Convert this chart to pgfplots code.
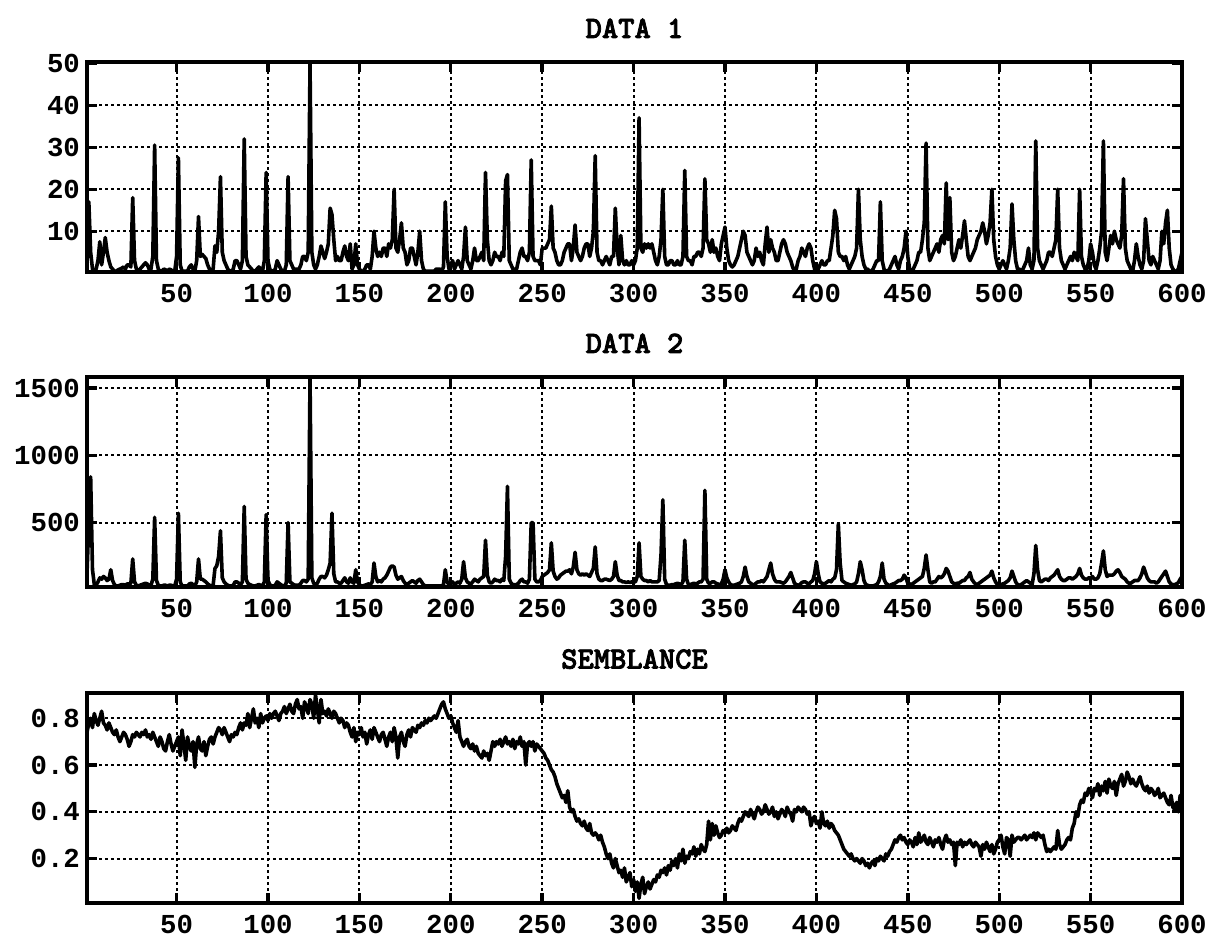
\documentclass[border=0pt]{standalone}
\usepackage{fontspec}
\setmainfont{Liberation Mono}
\newfontfamily\titlefont{lmmonolt10-bold.otf}[FakeBold=2.5]
\usepackage{pgfplots}
\pgfplotsset{compat=1.18}
\usepackage{pgfplotstable}

\pgfplotstableread[header=false,row sep=\\]{
2\\17\\5\\1\\0.5\\1\\3\\7.5\\2\\5\\
8.5\\5\\3\\1.5\\1\\0.5\\0.5\\0.8\\1\\1.2\\
1.5\\1\\2\\2\\1.5\\18\\3\\1\\0.5\\1\\
1.5\\2\\2.5\\2\\1\\1\\4\\30.5\\3\\1\\
0.5\\0.5\\1\\0.8\\0.5\\1\\0.8\\0.5\\0.5\\4\\
27.5\\2\\0.5\\0.5\\0.5\\0.5\\1.5\\2\\1\\0.5\\
3\\13.5\\4\\4.5\\4\\3.5\\2\\1\\0.5\\1\\
6.5\\5\\10\\23\\5\\3\\2\\1\\0.5\\0.5\\
1\\3\\3\\2\\1\\3\\32\\4\\2\\1.5\\
1\\0.5\\0.5\\1\\1.5\\1\\0.5\\3\\24\\3\\
1\\0.5\\0.5\\1\\3\\2\\1\\0.5\\0.5\\2\\
23\\3\\2\\1\\1\\1\\1\\2\\4\\4\\
3\\5\\50\\5\\2\\1\\2\\4\\6.5\\5\\
3.5\\5\\7\\15.5\\14\\8\\3\\4\\3\\3\\
5\\6.5\\4\\3\\7\\1\\2\\7\\2\\1\\
0.5\\0.5\\1\\2\\2\\1\\4\\10\\6\\4\\
5\\4\\6\\6\\4\\7\\6\\8\\20\\6\\
5\\8\\12\\6\\5\\2\\3\\6\\6\\4\\
2\\5\\10\\3\\1\\0.5\\0.5\\0.5\\0.5\\0.5\\
0.5\\1\\1\\1\\0.5\\1.5\\17\\4\\1\\2\\
3\\1\\2\\3\\2\\1\\4\\11\\3\\2\\
1\\3\\6\\3\\3\\4\\5\\3\\24\\8\\
3\\2\\3\\5\\4\\4\\3\\5\\4\\22\\
23.5\\3\\2\\1\\1\\1\\3\\5\\6\\4\\
4\\3\\5\\27\\4\\3\\3\\3\\2\\6\\
6\\6\\7\\8\\16\\6\\5\\3\\2\\2\\
3\\5\\6\\7\\7\\3\\6\\11.5\\5\\4\\
3\\4\\6\\7\\7\\4\\6\\10\\28\\5\\
3\\3\\2\\3\\4\\3\\2\\4\\4\\15.5\\
6\\2\\9\\3\\2\\3\\2\\2\\3\\2\\
3\\6\\37\\6\\5\\7\\6\\7\\6\\7\\
5\\3\\2\\4\\8\\20\\4\\2\\2\\3\\
3\\2\\2\\3\\2\\2\\4\\24.5\\4\\3\\
3\\2\\4\\4\\5\\5\\4\\6\\22.5\\8\\
7\\5\\8\\5\\6\\4\\3\\7\\9\\11\\
6\\3\\2\\1.5\\2\\3\\4\\6\\8\\10\\
9\\5\\4\\3\\2\\3\\6\\4\\5\\3\\
2\\7\\11\\5\\8\\6\\5\\3\\3\\5\\
7\\8\\7\\5\\4\\3\\1.5\\0.5\\1\\3\\
4\\6\\5\\4\\6\\7\\6\\3\\1\\0.5\\
1\\2\\3\\2\\2\\3\\3\\6\\9\\15\\
13\\5\\4\\4\\3\\4\\2\\1\\2\\3\\
4\\6\\20\\8\\4\\2\\1\\1\\0.5\\0.5\\
1\\2\\3\\3\\17\\3\\1\\0.5\\0.5\\1\\
2\\3\\4\\2\\1\\3\\4\\6\\10\\4\\
1\\0.5\\1\\2\\3\\5\\5\\8\\12\\31\\
6\\3\\4\\5\\6\\7\\5\\8\\9\\7\\
21.5\\8\\18\\5\\3\\4\\6\\8\\6\\9\\
12.5\\8\\4\\3\\4\\5\\6\\8\\9\\10\\
12\\10\\7\\9\\12\\20\\8\\4\\2\\1\\
2\\3\\2\\1\\3\\6\\16.5\\8\\3\\1\\
1\\0.5\\1\\2\\3\\6\\2\\1\\3\\31.5\\
6\\3\\2\\1\\2\\3\\5\\5\\4\\6\\
8\\20\\6\\3\\2\\1\\2\\3\\4\\3\\
5\\4\\3\\20\\4\\2\\1\\1\\3\\7\\
5\\2\\1\\3\\6\\10\\31.5\\5\\3\\6\\
9\\7\\10\\8\\7\\6\\9\\22.5\\6\\3\\
2\\1\\0.5\\3\\7\\4\\2\\1\\3\\13\\
8\\3\\2\\4\\3\\2\\1\\3\\10\\7\\
12\\15\\6\\2\\1\\0.5\\0.5\\1\\3\\5\\
}\dataone

\pgfplotstableread[header=false,row sep=\\]{
120\\500\\840\\150\\40\\35\\60\\90\\80\\100\\
90\\70\\80\\150\\70\\40\\30\\30\\35\\40\\
40\\35\\45\\45\\50\\230\\60\\35\\30\\35\\
40\\45\\50\\45\\35\\35\\80\\540\\70\\35\\
30\\30\\35\\35\\30\\35\\35\\30\\30\\80\\
570\\60\\30\\30\\30\\30\\45\\50\\40\\30\\
60\\230\\80\\80\\70\\60\\45\\35\\30\\35\\
160\\180\\250\\440\\90\\60\\45\\35\\30\\30\\
35\\60\\60\\50\\40\\60\\620\\80\\50\\40\\
35\\30\\30\\35\\40\\35\\30\\60\\560\\70\\
40\\30\\30\\35\\60\\50\\40\\30\\30\\50\\
500\\60\\50\\40\\35\\35\\35\\50\\70\\70\\
60\\80\\1580\\90\\50\\40\\50\\80\\100\\100\\
90\\110\\150\\200\\570\\120\\60\\60\\50\\50\\
70\\90\\60\\50\\90\\60\\50\\150\\60\\40\\
30\\30\\35\\40\\45\\40\\60\\200\\100\\60\\
70\\60\\80\\90\\110\\140\\170\\180\\170\\110\\
80\\90\\100\\70\\50\\40\\50\\60\\70\\60\\
50\\70\\80\\60\\40\\30\\30\\30\\30\\30\\
30\\30\\30\\30\\30\\40\\150\\60\\40\\50\\
60\\40\\50\\60\\50\\80\\210\\90\\60\\50\\
45\\60\\80\\70\\60\\80\\90\\100\\370\\110\\
60\\50\\60\\80\\70\\70\\60\\80\\70\\250\\
770\\80\\50\\40\\40\\40\\50\\70\\80\\60\\
60\\50\\80\\500\\500\\80\\60\\60\\70\\100\\
110\\120\\130\\150\\350\\140\\100\\80\\90\\110\\
120\\130\\140\\140\\150\\120\\170\\280\\150\\120\\
110\\120\\110\\120\\110\\100\\130\\160\\320\\120\\
80\\70\\70\\80\\80\\75\\70\\80\\100\\210\\
110\\70\\70\\60\\60\\55\\60\\55\\60\\60\\
60\\100\\350\\100\\80\\70\\70\\60\\70\\60\\
60\\60\\60\\70\\260\\670\\80\\40\\35\\35\\
40\\40\\45\\50\\45\\40\\60\\370\\80\\40\\
40\\45\\50\\45\\50\\60\\60\\80\\740\\80\\
50\\50\\60\\60\\50\\45\\40\\45\\80\\150\\
90\\60\\40\\35\\35\\40\\45\\50\\60\\100\\
170\\100\\60\\50\\40\\40\\50\\60\\60\\70\\
60\\80\\100\\150\\200\\120\\80\\60\\60\\60\\
55\\50\\60\\80\\100\\130\\90\\50\\40\\35\\
40\\55\\60\\60\\50\\45\\60\\70\\120\\210\\
120\\60\\50\\45\\50\\60\\70\\60\\80\\90\\
150\\490\\200\\70\\60\\50\\45\\40\\35\\40\\
45\\60\\120\\210\\150\\70\\40\\35\\30\\30\\
30\\35\\40\\60\\100\\200\\80\\50\\40\\30\\
40\\45\\50\\60\\70\\70\\80\\110\\90\\50\\
45\\40\\50\\60\\70\\80\\90\\100\\160\\260\\
150\\60\\50\\60\\60\\80\\100\\90\\100\\120\\
160\\140\\100\\60\\50\\45\\50\\50\\60\\70\\
70\\90\\100\\130\\80\\60\\45\\40\\50\\60\\
70\\80\\90\\100\\110\\140\\90\\60\\40\\35\\
40\\45\\50\\60\\70\\90\\140\\100\\60\\40\\
35\\40\\50\\60\\70\\60\\50\\40\\120\\330\\
150\\70\\60\\70\\80\\80\\70\\90\\100\\110\\
130\\150\\100\\80\\70\\70\\80\\90\\90\\80\\
90\\100\\120\\160\\110\\90\\80\\80\\90\\90\\
100\\80\\80\\90\\120\\200\\290\\150\\100\\110\\
110\\110\\120\\140\\150\\130\\100\\90\\80\\60\\
50\\50\\60\\70\\70\\70\\90\\120\\170\\130\\
90\\70\\60\\60\\60\\50\\60\\80\\100\\120\\
140\\100\\60\\45\\40\\40\\45\\55\\80\\100\\
}\datatwo

\pgfplotstableread[header=false,row sep=\\]{
0.74\\0.78\\0.80\\0.76\\0.82\\0.79\\0.77\\0.80\\0.83\\0.78\\
0.77\\0.75\\0.78\\0.76\\0.74\\0.73\\0.75\\0.72\\0.70\\0.72\\
0.74\\0.73\\0.71\\0.68\\0.70\\0.73\\0.72\\0.74\\0.73\\0.72\\
0.74\\0.73\\0.75\\0.72\\0.73\\0.71\\0.74\\0.72\\0.70\\0.68\\
0.72\\0.70\\0.67\\0.66\\0.70\\0.73\\0.69\\0.66\\0.68\\0.70\\
0.72\\0.64\\0.75\\0.69\\0.62\\0.72\\0.68\\0.66\\0.70\\0.59\\
0.69\\0.72\\0.67\\0.66\\0.70\\0.64\\0.68\\0.71\\0.72\\0.69\\
0.72\\0.74\\0.76\\0.75\\0.73\\0.76\\0.74\\0.72\\0.70\\0.73\\
0.72\\0.74\\0.73\\0.76\\0.78\\0.75\\0.78\\0.77\\0.82\\0.76\\
0.80\\0.84\\0.78\\0.80\\0.76\\0.82\\0.78\\0.80\\0.81\\0.79\\
0.82\\0.80\\0.82\\0.83\\0.81\\0.79\\0.82\\0.83\\0.85\\0.82\\
0.84\\0.86\\0.83\\0.82\\0.86\\0.88\\0.84\\0.85\\0.80\\0.87\\
0.85\\0.82\\0.88\\0.86\\0.80\\0.90\\0.84\\0.78\\0.88\\0.82\\
0.83\\0.81\\0.84\\0.82\\0.80\\0.83\\0.82\\0.80\\0.78\\0.80\\
0.79\\0.76\\0.78\\0.77\\0.74\\0.72\\0.76\\0.70\\0.74\\0.73\\
0.76\\0.72\\0.74\\0.69\\0.73\\0.75\\0.71\\0.76\\0.74\\0.72\\
0.70\\0.73\\0.74\\0.71\\0.68\\0.72\\0.74\\0.70\\0.76\\0.72\\
0.63\\0.72\\0.74\\0.70\\0.68\\0.73\\0.75\\0.72\\0.76\\0.75\\
0.74\\0.77\\0.76\\0.78\\0.77\\0.79\\0.78\\0.80\\0.79\\0.80\\
0.81\\0.80\\0.82\\0.84\\0.86\\0.87\\0.84\\0.82\\0.80\\0.81\\
0.78\\0.76\\0.74\\0.79\\0.72\\0.70\\0.68\\0.70\\0.71\\0.68\\
0.67\\0.69\\0.66\\0.68\\0.65\\0.64\\0.63\\0.66\\0.64\\0.65\\
0.62\\0.66\\0.70\\0.68\\0.70\\0.69\\0.71\\0.68\\0.70\\0.72\\
0.69\\0.70\\0.68\\0.71\\0.67\\0.70\\0.69\\0.72\\0.68\\0.70\\
0.60\\0.69\\0.70\\0.68\\0.70\\0.66\\0.69\\0.68\\0.67\\0.66\\
0.65\\0.63\\0.62\\0.60\\0.58\\0.57\\0.55\\0.52\\0.50\\0.48\\
0.46\\0.47\\0.44\\0.49\\0.42\\0.40\\0.41\\0.38\\0.36\\0.37\\
0.35\\0.34\\0.36\\0.33\\0.32\\0.35\\0.31\\0.30\\0.31\\0.30\\
0.28\\0.30\\0.27\\0.25\\0.22\\0.20\\0.22\\0.18\\0.16\\0.20\\
0.17\\0.14\\0.15\\0.12\\0.16\\0.10\\0.12\\0.14\\0.08\\0.11\\
0.06\\0.10\\0.03\\0.09\\0.12\\0.05\\0.08\\0.10\\0.07\\0.09\\
0.11\\0.10\\0.13\\0.12\\0.15\\0.14\\0.16\\0.13\\0.17\\0.15\\
0.19\\0.17\\0.20\\0.16\\0.22\\0.19\\0.24\\0.18\\0.21\\0.20\\
0.23\\0.22\\0.25\\0.21\\0.24\\0.22\\0.26\\0.24\\0.23\\0.26\\
0.36\\0.28\\0.35\\0.30\\0.34\\0.31\\0.29\\0.30\\0.32\\0.31\\
0.33\\0.31\\0.32\\0.34\\0.33\\0.32\\0.35\\0.37\\0.36\\0.38\\
0.40\\0.39\\0.38\\0.41\\0.39\\0.37\\0.40\\0.42\\0.41\\0.39\\
0.40\\0.43\\0.41\\0.39\\0.40\\0.42\\0.38\\0.40\\0.37\\0.39\\
0.41\\0.40\\0.38\\0.42\\0.40\\0.39\\0.36\\0.41\\0.40\\0.42\\
0.41\\0.40\\0.42\\0.41\\0.39\\0.40\\0.34\\0.37\\0.38\\0.35\\
0.36\\0.33\\0.40\\0.35\\0.34\\0.36\\0.33\\0.35\\0.34\\0.32\\
0.31\\0.30\\0.28\\0.26\\0.24\\0.23\\0.22\\0.21\\0.22\\0.20\\
0.19\\0.20\\0.19\\0.18\\0.20\\0.19\\0.17\\0.18\\0.16\\0.18\\
0.19\\0.17\\0.20\\0.19\\0.21\\0.20\\0.19\\0.22\\0.21\\0.23\\
0.24\\0.26\\0.28\\0.27\\0.29\\0.30\\0.28\\0.29\\0.27\\0.26\\
0.28\\0.27\\0.25\\0.29\\0.26\\0.31\\0.27\\0.28\\0.30\\0.27\\
0.26\\0.29\\0.27\\0.25\\0.28\\0.27\\0.29\\0.26\\0.24\\0.28\\
0.30\\0.27\\0.28\\0.26\\0.27\\0.17\\0.27\\0.26\\0.28\\0.25\\
0.27\\0.26\\0.27\\0.28\\0.26\\0.25\\0.27\\0.26\\0.25\\0.21\\
0.26\\0.24\\0.27\\0.25\\0.23\\0.26\\0.22\\0.24\\0.27\\0.28\\
0.30\\0.25\\0.22\\0.29\\0.28\\0.21\\0.30\\0.27\\0.28\\0.29\\
0.29\\0.28\\0.29\\0.30\\0.28\\0.29\\0.30\\0.29\\0.31\\0.28\\
0.31\\0.30\\0.29\\0.30\\0.26\\0.23\\0.24\\0.23\\0.24\\0.25\\
0.24\\0.32\\0.26\\0.24\\0.25\\0.26\\0.28\\0.29\\0.28\\0.33\\
0.35\\0.40\\0.38\\0.43\\0.45\\0.44\\0.48\\0.47\\0.50\\0.49\\
0.46\\0.50\\0.49\\0.52\\0.47\\0.51\\0.49\\0.53\\0.48\\0.54\\
0.51\\0.50\\0.53\\0.47\\0.52\\0.54\\0.56\\0.51\\0.53\\0.57\\
0.55\\0.52\\0.54\\0.52\\0.51\\0.53\\0.55\\0.52\\0.50\\0.49\\
0.51\\0.48\\0.50\\0.49\\0.47\\0.48\\0.50\\0.46\\0.47\\0.48\\
0.46\\0.44\\0.43\\0.47\\0.42\\0.41\\0.44\\0.40\\0.47\\0.45\\
}\datasem

\pgfplotsset{
  panel/.style={
    scale only axis, width=547.5pt, height=105pt,
    xmin=1, xmax=600,
    xtick={50,100,...,600},
    grid=major,
    major grid style={black, line width=1pt, dash pattern=on 1.4pt off 1.6pt},
    axis line style={line width=1.7pt},
    tick align=inside, tick pos=both,
    major tick length=5pt,
    every tick/.style={black, line width=1.7pt},
    tick label style={font=\bfseries\fontsize{13.7}{14}\selectfont},
    /pgf/number format/assume math mode=true,
    /pgf/number format/1000 sep={},
    title style={font=\titlefont\fontsize{15.5}{16}\selectfont, at={(0.5,1)}, anchor=south, yshift=2.5pt},
    xticklabel style={yshift=-2.5pt},
    yticklabel style={xshift=0pt},
  },
  sig/.style={black, line width=1.8pt, mark=none, line join=round},
}

\begin{document}
\begin{tikzpicture}
\useasboundingbox (0,0) rectangle (604pt,468.5pt);
\begin{axis}[panel, at={(43.5pt,332.5pt)}, anchor=south west,
  ymin=0.3, ymax=50.3, ytick={10,20,30,40,50}, title={DATA 1}]
  \addplot[sig] table[x expr=\coordindex+1, y index=0] {\dataone};
\end{axis}
\begin{axis}[panel, at={(43.5pt,175pt)}, anchor=south west,
  ymin=22, ymax=1582, ytick={500,1000,1500}, title={DATA 2}]
  \addplot[sig] table[x expr=\coordindex+1, y index=0] {\datatwo};
\end{axis}
\begin{axis}[panel, at={(43.5pt,17pt)}, anchor=south west,
  ymin=0.01, ymax=0.908, ytick={0.2,0.4,0.6,0.8},
  yticklabel style={/pgf/number format/fixed, /pgf/number format/precision=1},
  title={SEMBLANCE}]
  \addplot[sig] table[x expr=\coordindex+1, y index=0] {\datasem};
\end{axis}
\end{tikzpicture}
\end{document}
